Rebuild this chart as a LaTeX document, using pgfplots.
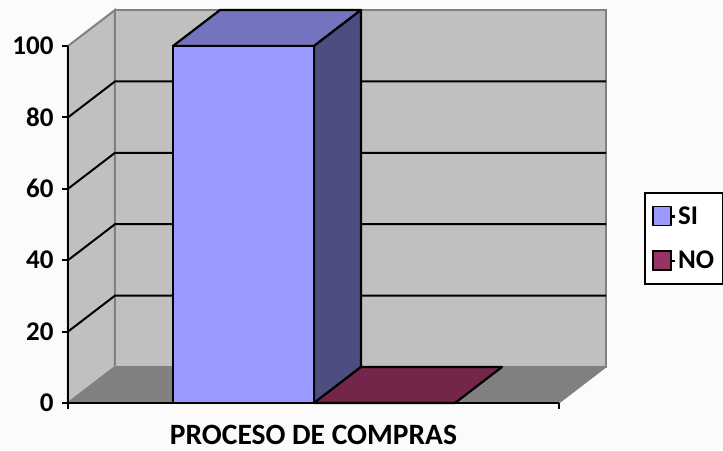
\documentclass[border=0pt]{standalone}
\usepackage{fontspec}
\setmainfont{Carlito}
\usepackage{pgfplots}
\pgfplotsset{compat=1.18}
\definecolor{wall}{HTML}{C0C0C0}
\definecolor{floorc}{HTML}{808080}
\definecolor{sifront}{HTML}{9999FF}
\definecolor{sitop}{HTML}{7373BF}
\definecolor{siside}{HTML}{4D4D80}
\definecolor{nofront}{HTML}{993366}
\definecolor{notop}{HTML}{732649}
\begin{document}
\begin{tikzpicture}
\useasboundingbox[fill=white!98.5!black] (-68pt,-47pt) rectangle (655pt,403pt);
\begin{axis}[
  scale only axis, width=491pt, height=357pt,
  xmin=0, xmax=491, ymin=0, ymax=100,
  clip=false, axis on top,
  axis x line*=bottom, axis y line*=left,
  axis line style={line width=2.3pt, -},
  every outer x axis line/.append style={-},
  every outer y axis line/.append style={-},
  xtick={0,491}, xticklabels={,},
  ytick={0,20,...,100},
  tick align=outside, major tick length=6pt,
  tick style={line width=2pt, black},
  /pgf/number format/assume math mode=true,
  tick label style={font=\fontsize{27}{30}\selectfont\bfseries},
  yticklabel style={xshift=-5pt},
  xlabel={PROCESO DE COMPRAS},
  xlabel style={font=\fontsize{29.5}{32}\selectfont\bfseries, at={(axis cs:245.5,-9)}, anchor=center},
  legend style={at={(axis cs:576,59.1)}, anchor=north west, draw=black, line width=1.8pt,
    fill=white, font=\fontsize{27}{30}\selectfont\bfseries,
    inner xsep=7pt, inner ysep=12pt, row sep=21pt, cells={anchor=west}},
  legend image code/.code={
    \path (0pt,0pt) -- (22pt,0pt);
    \draw[line width=1.8pt, draw=black, #1] (0pt,-9pt) rectangle (18pt,10pt);
  },
  legend cell align=left,
]
% side wall, back wall and floor
\addplot[forget plot, fill=wall, draw=floorc, line width=2pt] coordinates {(0,0) (47,10.08) (47,110.08) (0,100)} -- cycle;
\addplot[forget plot, fill=wall, draw=floorc, line width=2pt] coordinates {(47,10.08) (538,10.08) (538,110.08) (47,110.08)} -- cycle;
\addplot[forget plot, fill=floorc, draw=floorc, line width=1pt] coordinates {(0,0) (491,0) (538,10.08) (47,10.08)} -- cycle;
% grid lines across both walls
\addplot[forget plot, black, line width=2pt] coordinates {(0,20) (47,30.08) (538,30.08)};
\addplot[forget plot, black, line width=2pt] coordinates {(0,40) (47,50.08) (538,50.08)};
\addplot[forget plot, black, line width=2pt] coordinates {(0,60) (47,70.08) (538,70.08)};
\addplot[forget plot, black, line width=2pt] coordinates {(0,80) (47,90.08) (538,90.08)};
% SI column, value 100
\addplot[forget plot, fill=sitop, draw=black, line width=2.2pt, line join=round] coordinates {(105,100) (246,100) (293,110.08) (152,110.08)} -- cycle;
\addplot[forget plot, fill=siside, draw=black, line width=2.2pt, line join=round] coordinates {(246,0) (293,10.08) (293,110.08) (246,100)} -- cycle;
\addplot[fill=sifront, draw=black, line width=2.2pt, line join=round] coordinates {(105,0) (246,0) (246,100) (105,100)} -- cycle;
\addlegendentry{SI}
% NO column, value 0
\addplot[forget plot, fill=notop, draw=black, line width=2.2pt, line join=round] coordinates {(246,0) (387,0) (434,10.08) (293,10.08)} -- cycle;
\addplot[fill=nofront, draw=black, line width=2.2pt] coordinates {(246,0) (387,0) (387,0) (246,0)} -- cycle;
\addlegendentry{NO}
\end{axis}
\end{tikzpicture}
\end{document}
